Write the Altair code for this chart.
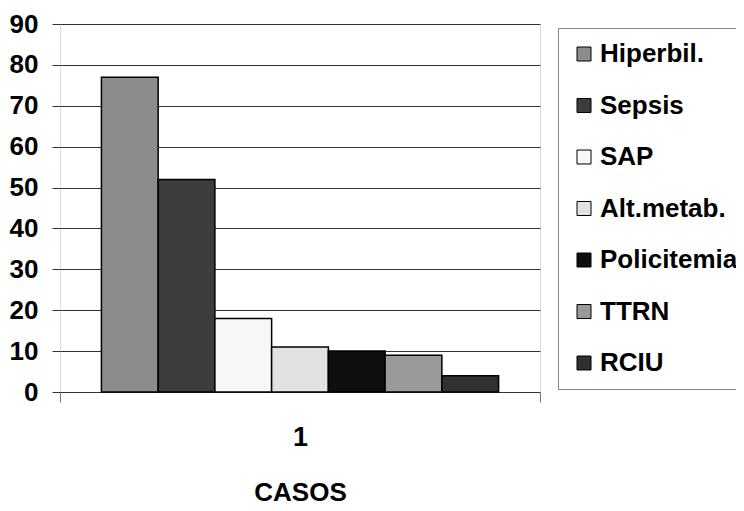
import altair as alt
import pandas as pd

categorias = ["Hiperbil.", "Sepsis", "SAP", "Alt.metab.", "Policitemia", "TTRN", "RCIU"]
casos = [77, 52, 18, 11, 10, 9, 4]
grupo = ["1", "1", "1", "1", "1", "1", "1"]
colores = ["#8c8c8c", "#3c3c3c", "#f7f7f7", "#e2e2e2", "#0e0e0e", "#9a9a9a", "#303030"]
y_ticks = [0, 10, 20, 30, 40, 50, 60, 70, 80, 90]

df = pd.DataFrame({"grupo": grupo, "causa": categorias, "valor": casos})

FONT = "Liberation Sans, Arial, sans-serif"

chart = alt.Chart(df).mark_bar(stroke="black", strokeWidth=1.5).encode(
    x=alt.X(
        "grupo:N",
        title="CASOS",
        scale=alt.Scale(paddingInner=0, paddingOuter=0),
        axis=alt.Axis(
            labelAngle=0, labelFont=FONT, labelFontSize=27, labelFontWeight="bold",
            labelColor="black", labelPadding=22, tickBand="extent", tickSize=10,
            tickColor="#777", domain=False, titleFont=FONT, titleFontSize=26,
            titleFontWeight="bold", titleColor="black", titlePadding=29,
        ),
    ),
    xOffset=alt.XOffset(
        "causa:N", sort=categorias,
        scale=alt.Scale(paddingOuter=0.73, paddingInner=0),
    ),
    y=alt.Y(
        "valor:Q",
        title=None,
        scale=alt.Scale(domain=[0, 90], nice=False),
        axis=alt.Axis(
            values=y_ticks, grid=True, gridColor="#333", gridWidth=1, domain=False,
            tickSize=8, tickColor="#333", labelFont=FONT, labelFontSize=26,
            labelFontWeight="bold", labelColor="black", labelPadding=14,
        ),
    ),
    color=alt.Color(
        "causa:N",
        sort=categorias,
        scale=alt.Scale(domain=categorias, range=colores),
        legend=alt.Legend(
            orient="none", legendX=498, legendY=4, title=None,
            symbolType="square", symbolSize=196, symbolStrokeColor="black",
            symbolStrokeWidth=1, symbolOpacity=1,
            labelFont=FONT, labelFontSize=26, labelFontWeight="bold",
            labelColor="black", labelOffset=3, rowPadding=25.5, padding=13,
            fillColor="white", strokeColor="#888", labelLimit=400,
        ),
    ),
).properties(
    width=480,
    height=368,
    autosize=alt.AutoSizeParams(type="none"),
    padding={"left": 52, "top": 16, "right": 196, "bottom": 115},
).configure_view(
    fill="#b3b3b3", stroke="#444", strokeWidth=1
).configure(background="white")

chart.save("out.html", embed_options={"renderer": "svg", "actions": False})
